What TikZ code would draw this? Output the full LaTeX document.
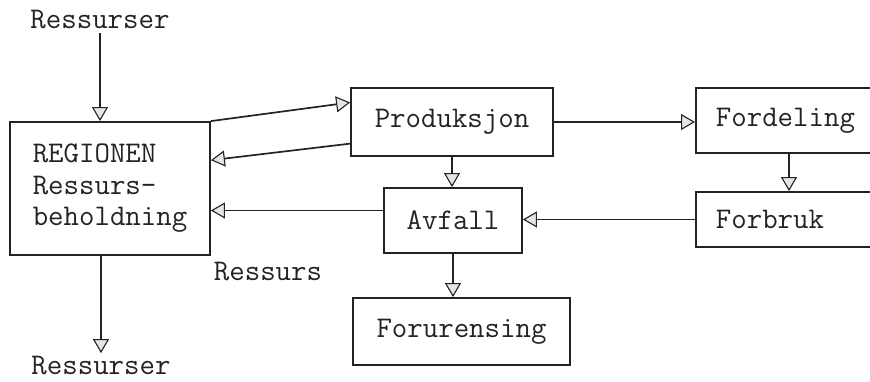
\documentclass[tikz,border=0pt]{standalone}
\usetikzlibrary{arrows.meta,calc}
\definecolor{ink}{RGB}{35,35,35}
\begin{document}
\begin{tikzpicture}[x=1pt,y=-1pt,
  every node/.style={font=\ttfamily\fontsize{30}{31.5}\selectfont, text=ink},
  box/.style={draw=ink, line width=1.8pt, inner sep=0pt},
  flow/.style={draw=ink, line width=1.7pt,
    -{Triangle[open, fill=gray!20, width=16pt, length=14pt, line width=1.1pt]}}]
\useasboundingbox (0,0) rectangle (870,381);
\clip (0,0) rectangle (870,381);
% boxes
\node[box, minimum width=200pt, minimum height=133pt, align=left] (reg) at (110,188.5)
  {REGIONEN\\Ressurs-\\beholdning};
\node[box, minimum width=202pt, minimum height=68pt] (prod) at (452,122) {Produksjon};
\node[box, minimum width=138pt, minimum height=65pt] (avf) at (453,220.5) {Avfall};
\node[box, minimum width=217pt, minimum height=67pt] (forur) at (461.5,331.5) {Forurensing};
\node[box, minimum width=205pt, minimum height=65pt, text width=185pt, inner xsep=20pt, align=left, anchor=west] (ford) at (695,120.5) {Fordeling};
\node[box, minimum width=205pt, minimum height=55pt, text width=185pt, inner xsep=20pt, align=left, anchor=west] (forbr) at (695,219.5) {Forbruk};
% labels
\node (rs1) at (100,20) {Ressurser};
\node (rs2) at (101,366) {Ressurser};
\node (rsl) at (268,272) {Ressurs};
% connectors
\draw[flow] (rs1.south) -- (rs1.south |- reg.north);
\draw[flow] (rs2.north |- reg.south) -- (rs2.north);
\coordinate (pin) at ($(prod.north west)!0.22!(prod.south west)$);
\coordinate (pout) at ($(prod.north west)!0.81!(prod.south west)$);
\coordinate (rin) at ($(reg.north east)!0.29!(reg.south east)$);
\draw[flow] (reg.north east) -- (pin);
\draw[flow] (pout) -- (rin);
\coordinate (aout) at ($(avf.north west)!0.35!(avf.south west)$);
\draw[flow] (aout) -- (aout -| reg.east);
\draw[flow] (prod.east) -- (prod.east -| ford.west);
\coordinate (fd) at ($(ford.south west)+(94,0)$);
\draw[flow] (fd) -- (fd |- forbr.north);
\draw[flow] (forbr.west) -- (forbr.west -| avf.east);
\draw[flow] (prod.south) -- (prod.south |- avf.north);
\draw[flow] (avf.south) -- (avf.south |- forur.north);
\end{tikzpicture}
\end{document}
